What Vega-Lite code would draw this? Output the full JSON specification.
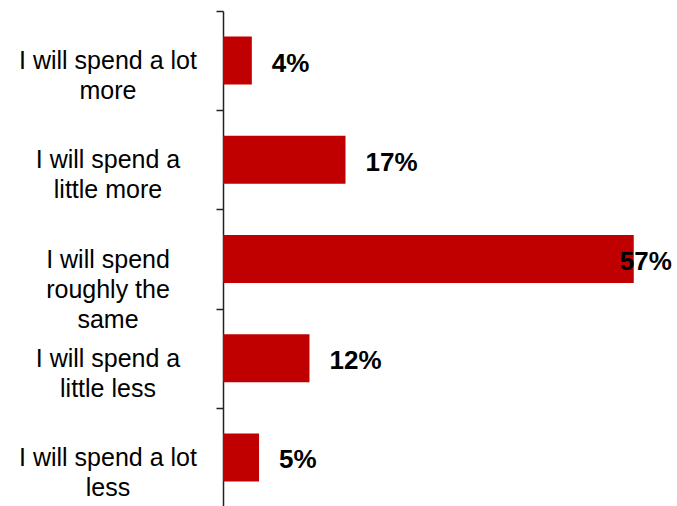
{
  "$schema": "https://vega.github.io/schema/vega-lite/v6.json",
  "width": 454,
  "height": 496,
  "autosize": {"type": "none"},
  "padding": {"left": 223, "top": 11, "right": 0, "bottom": 0},
  "background": "white",
  "config": {"view": {"stroke": null}},
  "data": {
    "values": [
      {"answer": "I will spend a lot|more", "share": 0.04},
      {"answer": "I will spend a|little more", "share": 0.17},
      {"answer": "I will spend|roughly the|same", "share": 0.57},
      {"answer": "I will spend a|little less", "share": 0.12},
      {"answer": "I will spend a lot|less", "share": 0.05}
    ]
  },
  "encoding": {
    "y": {
      "field": "answer",
      "type": "nominal",
      "sort": null,
      "scale": {"paddingInner": 0, "paddingOuter": 0},
      "axis": {
        "title": null,
        "labelExpr": "split(datum.label, '|')",
        "labelAlign": "center",
        "labelBaseline": "middle",
        "labelPadding": 108.5,
        "labelLimit": 400,
        "labelFont": "Liberation Sans",
        "labelFontSize": 25,
        "labelLineHeight": 30,
        "labelColor": "#000000",
        "tickBand": "extent",
        "tickSize": 7,
        "tickColor": "#222222",
        "tickWidth": 1.5,
        "domainColor": "#222222",
        "domainWidth": 1.5
      }
    },
    "x": {
      "field": "share",
      "type": "quantitative",
      "scale": {"domain": [0, 0.63], "nice": false},
      "axis": null
    }
  },
  "layer": [
    {"mark": {"type": "bar", "color": "#C00000", "height": {"band": 0.484}}},
    {
      "transform": [{"filter": "datum.share < 0.5"}],
      "mark": {"type": "text", "align": "left", "baseline": "middle", "dx": 20, "dy": 3, "font": "Liberation Sans", "fontSize": 26, "fontWeight": "bold", "color": "#000000"},
      "encoding": {"text": {"field": "share", "type": "quantitative", "format": ".0%"}}
    },
    {
      "transform": [{"filter": "datum.share >= 0.5"}],
      "mark": {"type": "text", "align": "right", "baseline": "middle", "dx": 38, "dy": 3, "font": "Liberation Sans", "fontSize": 26, "fontWeight": "bold", "color": "#000000"},
      "encoding": {"text": {"field": "share", "type": "quantitative", "format": ".0%"}}
    }
  ]
}
